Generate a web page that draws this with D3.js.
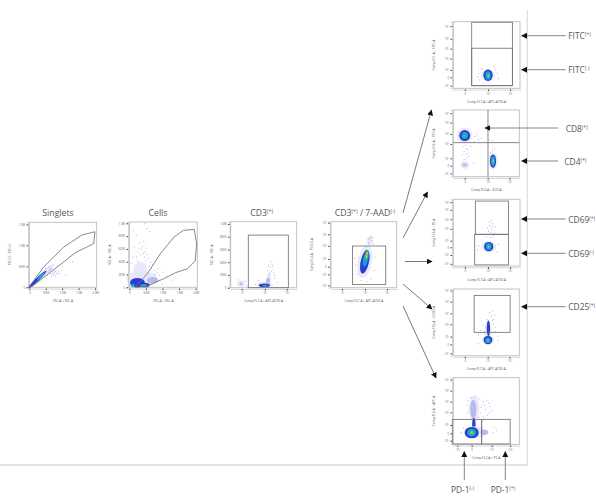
<!DOCTYPE html>
<html><head><meta charset="utf-8">
<style>html,body{margin:0;padding:0;background:#fff}svg{display:block}
text{font-family:"Open Sans",sans-serif;fill:#555}
.dens{filter:blur(.45px)}.soft{filter:blur(.25px)}</style>
<script src="https://cdn.jsdelivr.net/npm/d3@7"></script></head><body><svg id="c" width="596" height="504"></svg>
<script>
// Density levels, outermost to core
const levelColors = ["#e2e3f7","#b4b8ec","#2236cf","#16a8dc","#38c46c","#e6dc3c","#e8542a"];
const linTicksFSC = [0,500,1000,1500,2000], linLabelsFSC = ["0","500K","1.0M","1.5M","2.0M"];

// [cx, cy, rx, ry, tilt, level]
const singletBlobs = [[377,270,520,70,-44,0],[245,185,377,40,-44,2],[347,262,153,24,-44,3],[377,285,80,12,-44,4]];
const singletDots = [[600,450],[650,380],[700,400],[750,350],[800,420],[560,380],[620,330],[680,450],[720,300],[900,330],[1000,500],[1100,300],[1300,620],[850,520],[540,300],[780,280],[480,470],[950,420],[660,260],[580,500],[610,410],[640,440],[730,370],[690,330],[770,390],[820,340],[870,380]];
const singletGate = [[0,15],[428,477],[1040,955],[1600,1247],[2000,1324],[1958,1040],[1397,824],[836,477],[326,169],[71,15]];

const cellBlobs = [[330,280,210,120,0,0],[377,130,470,125,0,0],[700,110,170,50,0,1],[245,73,225,73,0,2],[470,36,143,36,0,2],[100,31,61,26,0,3],[428,31,102,21,0,3],[449,26,51,10,0,4]];
const cellDots = [[100,900],[200,820],[450,1000],[520,920],[600,880],[300,700],[420,720],[380,640],[500,620],[250,560],[320,520],[440,480],[560,460],[620,400],[700,360],[850,300],[1000,240],[1120,180],[1300,120],[900,120],[760,210],[130,640],[90,480],[60,380],[980,60],[350,600],[280,620],[460,560],[410,540],[520,520],[200,480],[230,420],[480,420],[590,340],[660,300],[760,270],[830,240],[900,200]];
const cellGate = [[173,0],[530,203],[938,525],[1346,785],[1632,889],[1958,905],[2030,681],[1989,411],[1754,291],[1397,229],[1040,135],[530,16]];

const cd3Blobs = [[2.12,47,.72,50,0,0],[2.42,130,.22,100,6,0],[-.06,63,.36,50,0,0],[-.06,60,.15,20,0,1],[2.4,105,.17,50,6,1],[2.06,37,.52,30,0,2],[2.12,32,.24,15,0,3],[2.12,26,.12,7,0,4]];
const cd3Dots = [[2.6,420],[2.7,380],[2.55,330],[2.8,300],[2.3,280],[2.85,240],[3.0,200],[2.4,360],[1.5,120],[1.2,60],[3.2,90],[.3,110],[-.4,130],[.4,40],[2.5,250],[2.65,270],[2.75,350],[2.45,220],[2.95,160]];

const aadBlobs = [[2.09,.45,.65,1.5,10,0],[2.55,2.35,.24,.42,8,0],[2.09,.45,.38,1.1,12,2],[2.18,.76,.22,.75,12,3],[2.27,1.06,.13,.42,10,4],[2.27,1.06,.08,.28,10,5],[2.28,1.1,.04,.14,10,6]];
const aadDots = [[2.5,2.6],[2.7,2.4],[2.4,2.2],[2.8,2.1],[1.2,.2],[1.4,-.6],[3,.9],[2.9,-.3],[1.1,.8],[2.2,-1.3],[1.7,-1.2],[2.6,-1.1],[2.6,2.8],[2.35,2.55],[2.75,2.7]];

const fitcBlobs = [[2.1,.18,.62,.58,0,0],[2.1,.18,.42,.52,0,2],[2.1,.16,.25,.38,0,3],[2.12,.15,.13,.22,0,4],[2.12,.14,.05,.08,0,5]];
const fitcDots = [[1.2,.4],[1.3,-.2],[2.9,.4],[3,-.1],[2.2,-.7],[1.5,.8],[2.6,1],[1.1,.1],[2.75,.7],[1.6,-.5]];

const cd8Blobs = [[0,2.73,.68,.7,0,0],[0,.06,.42,.36,0,0],[0,2.73,.5,.5,0,2],[0,2.73,.3,.32,0,3],[0,2.7,.14,.16,0,4],[0,.06,.22,.16,0,1],[2.59,.42,.42,.75,0,0],[2.59,.42,.28,.6,0,2],[2.59,.42,.18,.45,0,3],[2.59,.4,.08,.3,0,4],[2.6,.4,.03,.15,0,5]];
const cd8Dots = [[.9,2.7],[1.2,2.4],[1.5,2.5],[1.8,2.2],[2.2,2.4],[2.5,2.3],[1.1,2.9],[.8,2.2],[.5,1.8],[.3,.9],[-.3,1],[2.5,1.4],[2.7,1.6],[2.3,1.2],[.8,.3],[-.7,2.4],[-.6,3.1],[0,1.9],[.1,1.6],[-.1,1.3],[.05,1.05],[.2,1.45],[-.2,1.75],[.1,.75],[-.1,.6],[.25,1.15]];

const cd69Blobs = [[2.16,.06,.68,.52,0,0],[2.16,.06,.42,.42,0,2],[2.16,.06,.25,.3,0,3],[2.16,.05,.12,.16,0,4],[2.16,.05,.04,.06,0,5]];
const cd69Dots = [[2.3,1.4],[2.4,1.7],[2.2,2],[2.5,2.2],[2.1,1.5],[2.6,1.3],[2.4,2.5],[2,1.8],[1.2,.2],[1.1,-.2],[3,.3],[2.9,-.4],[2.2,2.3],[2.7,1.9],[2.5,1.1],[2.3,.95],[1.9,1],[2.45,1.95]];

const cd25Blobs = [[2.13,1.1,.32,1.1,0,0],[2.13,.39,.55,.42,0,0],[2.17,1.45,.15,.72,0,2],[2.13,.39,.4,.38,0,2],[2.13,.36,.24,.24,0,3],[2.13,.36,.12,.12,0,4],[2.13,.35,.04,.05,0,5]];
const cd25Dots = [[2.4,2.6],[2.7,2.7],[2.2,2.9],[2.5,2.2],[1.6,1.8],[1.4,1.3],[2.8,1.6],[1.7,1.2],[1.2,.9],[3,.8],[3,.4],[1.2,.1],[2.5,3.1],[2.6,2.3],[2,2.3],[1.85,1.6],[2.6,1.9],[2.75,1.2]];

const pd1Blobs = [[.2,2.25,.5,1.15,0,0],[.15,2.2,.28,.85,0,1],[.2,.8,.16,.62,0,2],[.3,.1,.95,.55,0,0],[1.15,.1,.35,.25,0,1],[0,.06,.64,.52,0,2],[0,.06,.4,.36,0,3],[0,.06,.22,.2,0,4],[.02,.08,.09,.08,0,5],[.03,.1,.03,.03,0,6]];
const pd1Dots = [[1,2.9],[1.5,2.8],[1.6,2.5],[1.2,2.2],[1.8,2.1],[1.4,1.7],[1,1.6],[1.7,1.3],[.9,1.1],[2,.6],[2.2,.3],[1.9,.1],[-.8,.5],[-1,.1],[.7,3.1],[-.5,2.6],[1.3,3],[.8,2.4],[.75,1.9],[1.05,1.35],[.6,1.5],[.9,2.6],[-.45,1.9],[-.4,3.0],[.55,3.25],[-.1,3.3],[.3,3.45],[1.6,1.9],[1.15,2.6]];

const biexXT = [0,2.1,4.1], biexXL = ["0","10³","10⁵"];
const gateFitc = [[.62,-.76,4.31,5],[.62,-.76,4.31,2.64]];
const gateCd3 = [[.6,0,4.24,826]];
const gateAad = [[.97,-1.61,4,1.88]];
const gateCd69 = [[.95,1.18,3.95,4.2],[.89,-1.6,3.95,1.18]];
const gateCd25 = [[.86,1.09,4.16,4.45]];
const gatePd1 = [[-1.76,-.97,.91,1.27],[.91,-.97,3.5,1.27]];

const panels = [
 {f:[29.3,222.3,67.4,65],xd:[0,2050],yd:[0,1550],xt:linTicksFSC,xl:linLabelsFSC,yt:[0,500,1000,1500],yl:["0","500K","1.0M","1.5M"],xn:"FSC-A :: FSC-A",yn:"FSC-H :: FSC-H",b:singletBlobs,d:singletDots,poly:singletGate},
 {f:[129.3,222,68,65.3],xd:[0,2050],yd:[0,1020],xt:linTicksFSC,xl:linLabelsFSC,yt:[0,200,400,600,800,1000],yl:["0","200K","400K","600K","800K","1.0M"],xn:"FSC-A :: FSC-A",yn:"SSC-A :: SSC-A",b:cellBlobs,d:cellDots,poly:cellGate},
 {f:[230.7,221.7,66,66],xd:[-1,5],yd:[0,1036],xt:biexXT,xl:biexXL,yt:[0,200,400,600,800,1000],yl:["0","200K","400K","600K","800K","1.0M"],xn:"Comp-FL7-A :: APC-A700-A",yn:"SSC-A :: SSC-A",b:cd3Blobs,d:cd3Dots,rects:gateCd3},
 {f:[331,221.7,65.7,66],xd:[-1,5],yd:[-1.91,4.09],xt:biexXT,xl:biexXL,yt:[-1.7,-.7,0,.7,1.9,2.95,4],yl:["-10³","-10²","0","10²","10³","10⁴","10⁵"],xn:"Comp-FL7-A :: APC-A700-A",yn:"Comp-FL4-A :: PO2.5-A",b:aadBlobs,d:aadDots,rects:gateAad},
 {f:[453.3,21.7,66.7,66.6],xd:[-1.05,5],yd:[-1,5.05],xt:biexXT,xl:biexXL,yt:[-.76,0,.67,1.7,2.6,3.5,4.65],yl:["-10³","0","10³","10⁴","10⁵","10⁶","10⁷"],xn:"Comp-FL7-A :: APC-A700-A",yn:"Comp-FL1-A :: FITC-A",b:fitcBlobs,d:fitcDots,rects:gateFitc},
 {f:[453.3,110,66,66.7],xd:[-1.05,5],yd:[-1,5.05],xt:biexXT,xl:biexXL,yt:[-.7,0,.67,1.97,2.88,3.91,4.76],yl:["-10³","0","10³","10⁴","10⁵","10⁶","10⁷"],xn:"Comp-FL3-A :: ECD-A",yn:"Comp-FL6-A :: PE7-A",b:cd8Blobs,d:cd8Dots,hv:[2.13,2.09]},
 {f:[453.3,199.3,66.7,66.7],xd:[-1.05,5],yd:[-1.7,4.36],xt:biexXT,xl:biexXL,yt:[-1.5,-.7,0,.6,1.67,2.55,3.4,4.1],yl:["-10³","-10²","0","10²","10³","10⁴","10⁵","10⁶"],xn:"Comp-FL7-A :: APC-A700-A",yn:"Comp-FL2-A :: PE-A",b:cd69Blobs,d:cd69Dots,rects:gateCd69},
 {f:[453.3,289,66,66.7],xd:[-1.05,5],yd:[-1.03,5.03],xt:biexXT,xl:biexXL,yt:[-.82,0,.7,1.82,2.82,3.88,4.88],yl:["-10³","0","10³","10⁴","10⁵","10⁶","10⁷"],xn:"Comp-FL7-A :: APC-A700-A",yn:"Comp-FL5-A :: H2O2-A",b:cd25Blobs,d:cd25Dots,rects:gateCd25},
 {f:[453.3,377.7,66,66.6],xd:[-1.67,4.33],yd:[-1,5.06],xt:[-1.3,0,1.82,3.5],xl:["-10³","0","10³","10⁵"],yt:[-.67,0,.76,1.9,2.88,3.88,4.88],yl:["-10³","0","10³","10⁴","10⁵","10⁶","10⁷"],xn:"Comp-FL2-A :: PE-A",yn:"Comp-FL6-A :: APC-A",b:pd1Blobs,d:pd1Dots,rects:gatePd1}
];

// Annotation text: [label, superscript, x, baseline, anchor]
const titles = [["Singlets","",58,216,"middle"],["Cells","",158,216,"middle"],["CD3","(+)",261.7,216,"middle"],["CD3","(+) / 7-AAD(-)",365,216,"middle"]];
const sideLabels = [["FITC","(+)",568.3,39],["FITC","(-)",568.3,73],["CD8","(+)",565.7,131.5],["CD4","(+)",564.3,164.5],["CD69","(+)",568.3,222.5],["CD69","(-)",568.3,256.5],["CD25","(+)",568.3,310],["PD-1","(-)",451,493],["PD-1","(+)",490.7,493]];
// Leader arrows [x1,y1,x2,y2]
const flowArrows = [[403,213,431.5,110],[403,238,427.5,192],[405,261.5,432,261.5],[403,284,432,309],[403,306,436,378]];
const pointerArrows = [[565.7,35.7,521.7,35.7],[565.7,69.7,521.7,69.7],[558,128,485,128],[558,161,521.7,161],[565.7,219,521.7,219],[565.7,253.3,521.7,253.3],[565.7,306.7,521.7,306.7],[464.3,480,464.3,451.7],[505.3,480,505.3,451.7]];

const svg = d3.select("#c");
const defs = svg.append("defs");
defs.append("marker").attr("id","ah").attr("viewBox","0 0 10 10").attr("refX",9).attr("refY",5)
 .attr("markerUnits","userSpaceOnUse").attr("markerWidth",6).attr("markerHeight",6).attr("orient","auto")
 .append("path").attr("d","M0,0L10,5L0,10Z").attr("fill","#111");

// page furniture
svg.append("line").attr("x1",527.3).attr("x2",527.3).attr("y1",10).attr("y2",465).attr("stroke","#d8d8d8");
svg.append("line").attr("x1",0).attr("x2",527.3).attr("y1",465).attr("y2",465).attr("stroke","#c8c8c8");

panels.forEach(p=>{
 const [l,t,w,h]=p.f;
 const x=d3.scaleLinear().domain(p.xd).range([l,l+w]);
 const y=d3.scaleLinear().domain(p.yd).range([t+h,t]);
 const g=svg.append("g");
 g.append("rect").attr("x",l).attr("y",t).attr("width",w).attr("height",h).attr("fill","#fff").attr("stroke","#bcbcbc").attr("stroke-width",.9);
 const dens=g.append("g").attr("class","dens");
 dens.selectAll("ellipse").data(p.b).join("ellipse")
  .attr("transform",d=>`translate(${x(d[0])},${y(d[1])}) rotate(${d[4]})`)
  .attr("rx",d=>Math.abs(x(d[2])-x(0))).attr("ry",d=>Math.abs(y(d[3])-y(0)))
  .attr("fill",d=>levelColors[d[5]]).attr("opacity",d=>d[5]==0?.8:.95);
 const dots=g.append("g").attr("class","soft");
 dots.selectAll("rect").data(p.d).join("rect").attr("x",d=>x(d[0])).attr("y",d=>y(d[1])).attr("width",1).attr("height",1).attr("fill","#9096de").attr("opacity",.75);
 const gate=g.append("g").attr("class","soft").attr("fill","none").attr("stroke","#737373").attr("stroke-width",.85);
 if(p.poly) gate.append("path").attr("d",d3.line().x(d=>x(d[0])).y(d=>y(d[1])).curve(d3.curveLinearClosed)(p.poly));
 if(p.rects) gate.selectAll("rect").data(p.rects).join("rect").attr("x",d=>x(d[0])).attr("y",d=>y(d[3])).attr("width",d=>x(d[2])-x(d[0])).attr("height",d=>y(d[1])-y(d[3]));
 if(p.hv){gate.append("line").attr("x1",x(p.hv[0])).attr("x2",x(p.hv[0])).attr("y1",t).attr("y2",t+h);
  gate.append("line").attr("x1",l).attr("x2",l+w).attr("y1",y(p.hv[1])).attr("y2",y(p.hv[1]));}
 const ax=g.append("g").attr("transform",`translate(0,${t+h+1.2})`).call(d3.axisBottom(x).tickValues(p.xt).tickFormat((d,i)=>p.xl[i]).tickSize(1.6).tickPadding(1.5));
 const ay=g.append("g").attr("transform",`translate(${l-1.2},0)`).call(d3.axisLeft(y).tickValues(p.yt).tickFormat((d,i)=>p.yl[i]).tickSize(1.6).tickPadding(1.5));
 [ax,ay].forEach(a=>{a.select(".domain").attr("stroke","#999").attr("stroke-width",.4);a.selectAll(".tick line").attr("stroke","#111").attr("stroke-width",.8);
  a.selectAll("text").style("font-size","2.8px").style("fill","#666");});
 g.append("text").attr("x",l+w/2).attr("y",t+h+14.5).attr("text-anchor","middle").style("font-size","3.2px").text(p.xn);
 g.append("text").attr("transform",`translate(${l-18},${t+h/2}) rotate(-90)`).attr("text-anchor","middle").style("font-size","3.2px").text(p.yn);
});

function label(a,size){
 const tx=svg.append("text").attr("x",a[2]).attr("y",a[3]).attr("text-anchor",a[4]||"start").style("font-size",size+"px");
 tx.append("tspan").text(a[0]);
 if(a[1]){const parts=a[1].match(/\([+-]\)|[^()]+/g);
  let shifted=false;
  parts.forEach(s=>{const sup=/^\(/.test(s);
   const ts=tx.append("tspan").text(s);
   if(sup){ts.attr("dy",shifted?0:-size*.35).style("font-size",(size*.6)+"px");shifted=true;}
   else{ts.attr("dy",shifted?size*.35:0);shifted=false;}
  });}
}
titles.forEach(a=>label(a,8.7));
sideLabels.forEach(a=>label(a,8.4));

svg.append("g").selectAll("line").data(flowArrows).join("line").attr("x1",d=>d[0]).attr("y1",d=>d[1]).attr("x2",d=>d[2]).attr("y2",d=>d[3])
 .attr("stroke","#555").attr("stroke-width",.8).attr("marker-end","url(#ah)");
svg.append("g").selectAll("line").data(pointerArrows).join("line").attr("x1",d=>d[0]).attr("y1",d=>d[1]).attr("x2",d=>d[2]).attr("y2",d=>d[3])
 .attr("stroke","#777").attr("stroke-width",.9).attr("marker-end","url(#ah)");
</script></body></html>
